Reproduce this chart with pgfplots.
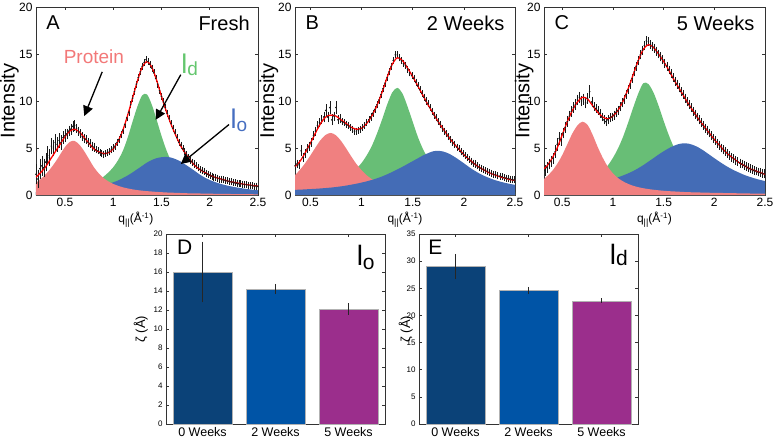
\documentclass[border=0pt]{standalone}
\usepackage{pgfplots}
\pgfplotsset{compat=1.18}
\usepackage{pgfplotstable}
\usepackage{fontspec}
\setmainfont{Liberation Sans}
\usetikzlibrary{arrows.meta}
\definecolor{pro}{RGB}{240,128,128}
\definecolor{ldg}{RGB}{104,190,118}
\definecolor{lob}{RGB}{68,108,182}
\definecolor{protxt}{RGB}{242,120,120}
\definecolor{ldtxt}{RGB}{100,198,110}
\definecolor{lotxt}{RGB}{70,110,192}
\definecolor{cz}{RGB}{11,66,120}
\definecolor{ct}{RGB}{0,84,166}
\definecolor{cf}{RGB}{155,46,140}

\pgfplotstableread{
x fit pro ld lo
0.20 1.9 1.30 0.30 0.30
0.25 2.4 1.70 0.35 0.32
0.30 3.0 2.20 0.40 0.35
0.35 3.8 2.80 0.45 0.38
0.40 4.6 3.50 0.50 0.42
0.45 5.4 4.30 0.55 0.45
0.50 6.2 5.10 0.62 0.50
0.55 6.8 5.65 0.70 0.55
0.60 7.0 5.75 0.78 0.60
0.65 6.7 5.35 0.88 0.66
0.70 6.1 4.65 1.00 0.72
0.75 5.5 3.80 1.15 0.80
0.80 4.9 2.95 1.35 0.88
0.85 4.6 2.30 1.60 0.97
0.90 4.4 1.80 1.95 1.08
0.95 4.5 1.45 2.40 1.20
1.00 4.9 1.18 2.95 1.35
1.05 5.7 0.98 3.70 1.55
1.10 6.9 0.82 4.70 1.80
1.15 8.5 0.70 6.10 2.08
1.20 10.3 0.60 7.80 2.40
1.25 12.1 0.52 9.40 2.75
1.30 13.6 0.46 10.60 3.10
1.35 14.2 0.41 10.70 3.45
1.40 13.6 0.37 9.60 3.72
1.45 12.2 0.33 8.00 3.92
1.50 10.5 0.30 6.30 4.02
1.55 8.9 0.27 4.80 4.05
1.60 7.5 0.25 3.60 3.98
1.65 6.3 0.23 2.60 3.80
1.70 5.2 0.21 1.80 3.55
1.75 4.4 0.19 1.40 3.22
1.80 3.7 0.18 1.10 2.88
1.85 3.1 0.17 0.90 2.52
1.90 2.7 0.16 0.75 2.15
1.95 2.4 0.15 0.65 1.85
2.00 2.1 0.14 0.55 1.60
2.05 1.9 0.13 0.48 1.40
2.10 1.75 0.12 0.43 1.22
2.15 1.6 0.115 0.39 1.08
2.20 1.45 0.11 0.35 0.96
2.25 1.35 0.10 0.32 0.86
2.30 1.25 0.095 0.30 0.77
2.35 1.15 0.09 0.28 0.69
2.40 1.08 0.085 0.26 0.62
2.45 1.0 0.08 0.24 0.56
2.50 0.95 0.075 0.22 0.50
}\curveA

\pgfplotstableread{
x fit pro ld lo
0.35 3.0 2.10 0.55 0.55
0.40 3.6 2.70 0.60 0.57
0.45 4.5 3.40 0.67 0.60
0.50 5.5 4.20 0.74 0.63
0.55 6.6 5.05 0.82 0.66
0.60 7.6 5.85 0.92 0.70
0.65 8.3 6.40 1.05 0.74
0.70 8.5 6.60 1.20 0.79
0.75 8.4 6.35 1.40 0.85
0.80 8.0 5.75 1.65 0.92
0.85 7.6 4.95 1.95 1.00
0.90 7.2 4.10 2.30 1.10
0.95 7.0 3.30 2.80 1.20
1.00 7.1 2.65 3.40 1.32
1.05 7.6 2.10 4.20 1.45
1.10 8.4 1.70 5.20 1.60
1.15 9.5 1.40 6.50 1.77
1.20 10.9 1.17 8.00 1.97
1.25 12.5 0.99 9.60 2.20
1.30 13.9 0.85 10.90 2.45
1.35 14.6 0.74 11.40 2.72
1.40 14.3 0.65 10.80 3.00
1.45 13.5 0.58 9.40 3.30
1.50 12.6 0.52 7.80 3.60
1.55 11.6 0.47 6.20 3.90
1.60 10.6 0.43 4.90 4.20
1.65 9.6 0.39 3.90 4.45
1.70 8.7 0.36 3.10 4.65
1.75 7.8 0.33 2.50 4.70
1.80 7.0 0.31 2.05 4.62
1.85 6.2 0.29 1.70 4.42
1.90 5.5 0.27 1.42 4.12
1.95 4.9 0.25 1.20 3.76
2.00 4.3 0.24 1.03 3.38
2.05 3.8 0.22 0.90 2.98
2.10 3.35 0.21 0.79 2.62
2.15 2.95 0.20 0.70 2.30
2.20 2.65 0.19 0.62 2.03
2.25 2.35 0.18 0.56 1.80
2.30 2.15 0.17 0.50 1.60
2.35 1.95 0.16 0.46 1.44
2.40 1.8 0.15 0.42 1.30
2.45 1.65 0.145 0.38 1.18
2.50 1.55 0.14 0.35 1.08
}\curveB

\pgfplotstableread{
x fit pro ld lo
0.32 2.8 1.70 0.60 0.70
0.35 3.1 2.00 0.63 0.72
0.40 3.9 2.55 0.70 0.75
0.45 5.0 3.30 0.78 0.78
0.50 6.4 4.25 0.87 0.82
0.55 7.8 5.40 0.97 0.86
0.60 9.0 6.55 1.08 0.90
0.65 9.9 7.40 1.22 0.95
0.70 10.4 7.80 1.38 1.00
0.75 10.2 7.45 1.57 1.07
0.80 9.5 6.40 1.80 1.15
0.85 8.8 5.10 2.10 1.25
0.90 8.3 3.95 2.55 1.37
0.95 8.1 3.00 3.15 1.52
1.00 8.4 2.30 3.95 1.70
1.05 9.0 1.80 4.95 1.88
1.10 10.0 1.45 6.20 2.08
1.15 11.3 1.18 7.70 2.30
1.20 12.8 0.98 9.30 2.55
1.25 14.3 0.83 10.80 2.85
1.30 15.5 0.72 11.90 3.18
1.35 16.0 0.63 11.80 3.55
1.40 15.7 0.56 10.90 3.92
1.45 15.0 0.50 9.50 4.30
1.50 14.2 0.45 7.90 4.65
1.55 13.3 0.41 6.40 4.97
1.60 12.3 0.38 5.10 5.23
1.65 11.4 0.35 4.10 5.42
1.70 10.5 0.32 3.30 5.50
1.75 9.6 0.30 2.70 5.45
1.80 8.8 0.28 2.20 5.28
1.85 8.0 0.27 1.82 5.02
1.90 7.3 0.25 1.52 4.68
1.95 6.6 0.24 1.28 4.30
2.00 5.9 0.23 1.10 3.92
2.05 5.3 0.22 0.95 3.55
2.10 4.7 0.21 0.83 3.20
2.15 4.2 0.20 0.73 2.88
2.20 3.8 0.19 0.65 2.60
2.25 3.4 0.18 0.58 2.35
2.30 3.1 0.17 0.52 2.12
2.35 2.8 0.16 0.47 1.93
2.40 2.6 0.15 0.43 1.76
2.45 2.4 0.145 0.39 1.61
2.50 2.2 0.14 0.36 1.48
}\curveC

\pgfplotstableread{
x y e
0.20 2.2 1.0
0.22 1.7 0.9
0.24 2.8 1.0
0.26 3.1 1.0
0.28 2.9 0.9
0.30 3.5 0.9
0.32 4.2 0.9
0.34 4.0 0.8
0.36 5.2 0.8
0.38 5.0 0.8
0.40 5.6 0.8
0.42 5.4 0.7
0.44 5.8 0.7
0.46 5.6 0.7
0.48 6.1 0.6
0.50 6.3 0.6
0.52 6.5 0.5
0.54 6.8 0.5
0.56 7.0 0.5
0.58 7.3 0.5
0.60 7.4 0.5
0.62 7.1 0.4
0.64 6.8 0.4
0.66 6.5 0.4
0.68 6.2 0.4
0.70 6.0 0.4
0.72 5.9 0.4
0.74 5.6 0.4
0.76 5.5 0.4
0.78 5.2 0.4
0.80 5.1 0.4
0.82 4.8 0.3
0.84 4.7 0.3
0.86 4.5 0.3
0.88 4.4 0.3
0.90 4.3 0.3
0.92 4.4 0.3
0.94 4.5 0.3
0.96 4.6 0.3
0.98 4.8 0.3
1.00 5.0 0.3
1.02 5.2 0.3
1.04 5.6 0.3
1.06 5.9 0.3
1.08 6.4 0.3
1.10 6.9 0.3
1.12 7.5 0.3
1.14 8.2 0.3
1.16 8.8 0.3
1.18 9.6 0.3
1.20 10.3 0.3
1.22 11.0 0.3
1.24 11.8 0.3
1.26 12.5 0.3
1.28 13.1 0.3
1.30 13.7 0.3
1.32 14.1 0.3
1.34 14.4 0.3
1.36 14.2 0.3
1.38 13.9 0.3
1.40 13.5 0.3
1.42 13.0 0.3
1.44 12.4 0.3
1.46 11.8 0.3
1.48 11.1 0.3
1.50 10.5 0.3
1.52 9.9 0.3
1.54 9.3 0.3
1.56 8.7 0.3
1.58 8.1 0.3
1.60 7.6 0.3
1.62 7.1 0.3
1.64 6.6 0.3
1.66 6.1 0.3
1.68 5.6 0.3
1.70 5.3 0.3
1.72 4.9 0.3
1.74 4.6 0.3
1.76 4.3 0.3
1.78 4.0 0.3
1.80 3.7 0.3
1.82 3.5 0.3
1.84 3.3 0.3
1.86 3.1 0.3
1.88 2.9 0.3
1.90 2.7 0.3
1.92 2.6 0.3
1.94 2.5 0.3
1.96 2.3 0.3
1.98 2.2 0.3
2.00 2.1 0.3
2.02 2.0 0.3
2.04 1.9 0.3
2.06 1.9 0.3
2.08 1.8 0.3
2.10 1.7 0.3
2.12 1.7 0.3
2.14 1.6 0.3
2.16 1.55 0.3
2.18 1.5 0.3
2.20 1.45 0.3
2.22 1.4 0.3
2.24 1.35 0.3
2.26 1.3 0.3
2.28 1.25 0.3
2.30 1.2 0.3
2.32 1.2 0.3
2.34 1.15 0.3
2.36 1.1 0.3
2.38 1.1 0.3
2.40 1.05 0.3
2.42 1.0 0.3
2.44 1.0 0.3
2.46 0.95 0.3
2.48 0.95 0.3
2.50 0.9 0.3
}\dataA

\pgfplotstableread{
x y e
0.35 3.1 0.4
0.37 3.3 0.4
0.39 3.2 0.4
0.41 4.7 0.5
0.43 4.0 0.4
0.45 4.4 0.4
0.47 4.9 0.4
0.49 5.2 0.4
0.51 5.6 0.4
0.53 6.3 0.4
0.55 6.8 0.4
0.57 7.4 0.4
0.59 7.7 0.4
0.61 8.0 0.4
0.63 8.3 0.5
0.65 9.0 0.6
0.67 8.3 0.5
0.69 9.3 0.6
0.71 8.0 0.5
0.73 8.4 0.4
0.75 9.3 0.6
0.77 8.0 0.4
0.79 8.1 0.4
0.81 7.8 0.3
0.83 7.7 0.3
0.85 7.5 0.3
0.87 7.4 0.3
0.89 7.2 0.3
0.91 7.0 0.3
0.93 6.8 0.3
0.95 6.8 0.3
0.97 6.9 0.3
0.99 7.0 0.3
1.01 7.2 0.3
1.03 7.4 0.3
1.05 7.7 0.3
1.07 8.0 0.3
1.09 8.3 0.3
1.11 8.7 0.3
1.13 9.1 0.3
1.15 9.6 0.3
1.17 10.1 0.3
1.19 10.7 0.3
1.21 11.3 0.3
1.23 11.9 0.3
1.25 12.5 0.3
1.27 13.1 0.3
1.29 13.7 0.3
1.31 14.3 0.3
1.33 14.9 0.3
1.35 14.9 0.3
1.37 14.6 0.3
1.39 14.3 0.3
1.41 14.0 0.3
1.43 13.8 0.3
1.45 13.4 0.3
1.47 13.0 0.3
1.49 12.7 0.3
1.51 12.4 0.3
1.53 12.0 0.3
1.55 11.6 0.3
1.57 11.2 0.3
1.59 10.8 0.3
1.61 10.4 0.3
1.63 10.0 0.3
1.65 9.7 0.3
1.67 9.3 0.3
1.69 8.9 0.3
1.71 8.5 0.3
1.73 8.2 0.3
1.75 7.8 0.3
1.77 7.5 0.3
1.79 7.1 0.3
1.81 6.8 0.3
1.83 6.5 0.3
1.85 6.2 0.3
1.87 5.9 0.3
1.89 5.6 0.3
1.91 5.4 0.3
1.93 5.1 0.3
1.95 4.9 0.3
1.97 4.6 0.3
1.99 4.4 0.3
2.01 4.2 0.3
2.03 4.0 0.3
2.05 3.8 0.3
2.07 3.6 0.3
2.09 3.4 0.3
2.11 3.3 0.3
2.13 3.1 0.3
2.15 2.95 0.3
2.17 2.85 0.3
2.19 2.7 0.3
2.21 2.6 0.3
2.23 2.5 0.3
2.25 2.4 0.3
2.27 2.3 0.3
2.29 2.2 0.3
2.31 2.15 0.3
2.33 2.05 0.3
2.35 2.0 0.3
2.37 1.95 0.3
2.39 1.85 0.3
2.41 1.8 0.3
2.43 1.75 0.3
2.45 1.7 0.3
2.47 1.65 0.3
2.49 1.6 0.3
}\dataB

\pgfplotstableread{
x y e
0.33 2.6 0.5
0.35 2.9 0.5
0.37 3.3 0.5
0.39 3.6 0.5
0.41 3.9 0.5
0.43 4.6 0.6
0.45 5.4 0.6
0.47 6.0 0.6
0.49 5.9 0.6
0.51 6.6 0.5
0.53 7.2 0.5
0.55 7.8 0.5
0.57 8.4 0.5
0.59 8.9 0.5
0.61 9.3 0.5
0.63 9.6 0.5
0.65 10.1 0.5
0.67 10.4 0.5
0.69 10.0 0.5
0.71 10.2 0.5
0.73 9.8 0.5
0.75 10.3 0.5
0.77 11.0 0.6
0.79 9.9 0.5
0.81 9.4 0.4
0.83 9.2 0.4
0.85 9.0 0.4
0.87 8.7 0.4
0.89 8.3 0.4
0.91 8.0 0.4
0.93 7.8 0.4
0.95 8.0 0.4
0.97 8.2 0.4
0.99 8.3 0.4
1.01 8.5 0.4
1.03 8.8 0.4
1.05 9.0 0.4
1.07 9.4 0.4
1.09 9.8 0.4
1.11 10.2 0.4
1.13 10.7 0.4
1.15 11.2 0.4
1.17 11.8 0.4
1.19 12.4 0.4
1.21 13.1 0.4
1.23 13.7 0.4
1.25 14.3 0.4
1.27 14.9 0.4
1.29 15.4 0.4
1.31 15.9 0.4
1.33 16.4 0.4
1.35 16.3 0.4
1.37 16.0 0.4
1.39 15.8 0.4
1.41 15.6 0.4
1.43 15.3 0.4
1.45 15.0 0.4
1.47 14.7 0.4
1.49 14.4 0.4
1.51 14.0 0.4
1.53 13.7 0.4
1.55 13.3 0.4
1.57 12.9 0.4
1.59 12.5 0.4
1.61 12.1 0.4
1.63 11.8 0.4
1.65 11.4 0.4
1.67 11.0 0.4
1.69 10.7 0.4
1.71 10.3 0.4
1.73 9.9 0.4
1.75 9.6 0.4
1.77 9.3 0.4
1.79 8.9 0.4
1.81 8.6 0.4
1.83 8.3 0.4
1.85 8.0 0.4
1.87 7.7 0.4
1.89 7.4 0.4
1.91 7.1 0.4
1.93 6.9 0.4
1.95 6.6 0.4
1.97 6.3 0.4
1.99 6.0 0.4
2.01 5.8 0.4
2.03 5.5 0.4
2.05 5.3 0.4
2.07 5.0 0.4
2.09 4.8 0.4
2.11 4.6 0.4
2.13 4.4 0.4
2.15 4.2 0.4
2.17 4.0 0.4
2.19 3.85 0.4
2.21 3.7 0.4
2.23 3.55 0.4
2.25 3.4 0.4
2.27 3.3 0.4
2.29 3.15 0.4
2.31 3.05 0.4
2.33 2.9 0.4
2.35 2.8 0.4
2.37 2.7 0.4
2.39 2.6 0.4
2.41 2.55 0.4
2.43 2.45 0.4
2.45 2.4 0.4
2.47 2.3 0.4
2.49 2.25 0.4
}\dataC

\pgfplotsset{
  base/.style={
    scale only axis, anchor=south west,
    tick align=inside, major tick length=3pt,
    axis line style={black!80, line width=0.5pt},
    every tick/.style={black!80, line width=0.5pt},
    /pgf/number format/assume math mode=true,
  },
  top/.style={
    base, height=188pt, ymin=0, ymax=20, xmax=2.5,
    ytick={0,5,10,15,20},
    xtick={0.5,1,1.5,2,2.5}, xticklabels={0.5,1,1.5,2,2.5},
    ticklabel style={font=\fontsize{12}{12}\selectfont},
    ylabel={Intensity},
    ylabel style={font=\fontsize{20}{20}\selectfont, anchor=center},
    xlabel={q\raisebox{-0.45ex}{\fontsize{9}{9}\selectfont ||}(Å\textsuperscript{-1})},
    xlabel style={font=\fontsize{12}{12}\selectfont, anchor=center},
  },
  dat/.style={only marks, mark=*, mark size=0.55pt, black!90,
    error bars/.cd, y dir=both, y explicit,
    error bar style={line width=0.3pt, black!90},
    error mark options={mark size=0.7pt, line width=0.3pt, black!90}},
  fitline/.style={red, line width=1.25pt, smooth},
  bot/.style={
    base, width=219pt, height=190pt, xmin=0.5, xmax=3.5,
    xtick={1,2,3}, xticklabels={0 Weeks,2 Weeks,5 Weeks},
    xticklabel style={font=\fontsize{12.5}{12.5}\selectfont},
    yticklabel style={font=\fontsize{8}{8}\selectfont},
    ylabel={ζ (Å)},
    ylabel style={font=\fontsize{13}{13}\selectfont, anchor=center},
  },
  barerr/.style={ybar, bar width=0.8, bar shift=0pt, draw=black!30, line width=0.4pt,
    error bars/.cd, y dir=both, y explicit,
    error bar style={line width=0.5pt, black!85},
    error mark options={mark size=1.8pt, line width=0.5pt, black!85}},
}

\begin{document}
\begin{tikzpicture}
\path[use as bounding box] (0,0) rectangle (777pt,440pt);

% ---------- A ----------
\begin{axis}[top, at={(36pt,245pt)}, width=222pt, xmin=0.2,
  ylabel style={at={(axis description cs:-0.12,0.5)}},
  xlabel style={at={(axis description cs:0.45,-0.133)}}]
\addplot[fill=ldg, draw=none, smooth] table[x=x,y=ld]{\curveA} \closedcycle;
\addplot[fill=lob, draw=none, smooth] table[x=x,y=lo]{\curveA} \closedcycle;
\addplot[fill=pro, draw=none, smooth] table[x=x,y=pro]{\curveA} \closedcycle;
\addplot[dat] table[x=x,y=y,y error=e]{\dataA};
\addplot[fitline] table[x=x,y=fit]{\curveA};
\node[font=\fontsize{20}{20}\selectfont, anchor=west] at (axis cs:0.27,18.3) {A};
\node[font=\fontsize{20}{20}\selectfont, anchor=east] at (axis cs:2.45,18.3) {Fresh};
\node[font=\fontsize{19}{19}\selectfont, text=protxt] at (axis cs:0.8,14.7) {Protein};
\node[text=ldtxt, anchor=base west] at (axis cs:1.67,12.9) {\fontsize{27}{27}\selectfont l\raisebox{-0.15ex}{\fontsize{19}{19}\selectfont d}};
\node[text=lotxt, anchor=base west] at (axis cs:2.18,7.1) {\fontsize{27}{27}\selectfont l\raisebox{-0.25ex}{\fontsize{19}{19}\selectfont o}};
\draw[black, line width=1.3pt, -{Triangle[length=10pt,width=10pt]}] (axis cs:0.886,13.1) -- (axis cs:0.70,8.4);
\draw[black, line width=1.3pt, -{Triangle[length=10pt,width=10pt]}] (axis cs:1.70,12.8) -- (axis cs:1.44,8.0);
\draw[black, line width=1.3pt, -{Triangle[length=10pt,width=10pt]}] (axis cs:2.20,7.5) -- (axis cs:1.70,3.3);
\end{axis}

% ---------- B ----------
\begin{axis}[top, at={(295pt,245pt)}, width=220pt, xmin=0.35,
  ylabel style={at={(axis description cs:-0.118,0.5)}},
  xlabel style={at={(axis description cs:0.5,-0.133)}}]
\addplot[fill=ldg, draw=none, smooth] table[x=x,y=ld]{\curveB} \closedcycle;
\addplot[fill=pro, draw=none, smooth] table[x=x,y=pro]{\curveB} \closedcycle;
\addplot[fill=lob, draw=none, smooth] table[x=x,y=lo]{\curveB} \closedcycle;
\addplot[dat] table[x=x,y=y,y error=e]{\dataB};
\addplot[fitline] table[x=x,y=fit]{\curveB};
\node[font=\fontsize{20}{20}\selectfont, anchor=west] at (axis cs:0.42,18.3) {B};
\node[font=\fontsize{20}{20}\selectfont, anchor=east] at (axis cs:2.43,18.3) {2 Weeks};
\end{axis}

% ---------- C ----------
\begin{axis}[top, at={(544pt,245pt)}, width=221pt, xmin=0.32,
  ylabel style={at={(axis description cs:-0.09,0.5)}},
  xlabel style={at={(axis description cs:0.5,-0.133)}}]
\addplot[fill=ldg, draw=none, smooth] table[x=x,y=ld]{\curveC} \closedcycle;
\addplot[fill=lob, draw=none, smooth] table[x=x,y=lo]{\curveC} \closedcycle;
\addplot[fill=pro, draw=none, smooth] table[x=x,y=pro]{\curveC} \closedcycle;
\addplot[dat] table[x=x,y=y,y error=e]{\dataC};
\addplot[fitline] table[x=x,y=fit]{\curveC};
\node[font=\fontsize{20}{20}\selectfont, anchor=west] at (axis cs:0.39,18.3) {C};
\node[font=\fontsize{20}{20}\selectfont, anchor=east] at (axis cs:2.43,18.3) {5 Weeks};
\end{axis}

% ---------- D ----------
\begin{axis}[bot, at={(166pt,16pt)}, ymin=0, ymax=20, ytick={0,2,...,20},
  ylabel style={at={(axis description cs:-0.115,0.5)}}]
\addplot[fill=cz, barerr] coordinates {(1,16) +- (0,3)};
\addplot[fill=ct, barerr] coordinates {(2,14.2) +- (0,0.35)};
\addplot[fill=cf, barerr] coordinates {(3,12.1) +- (0,0.4)};
\node[font=\fontsize{21}{21}\selectfont] at (axis description cs:0.085,0.93) {D};
\node[anchor=base west] at (axis description cs:0.855,0.835) {\fontsize{28}{28}\selectfont l\raisebox{-0.3ex}{\fontsize{21}{21}\selectfont o}};
\end{axis}

% ---------- E ----------
\begin{axis}[bot, at={(419pt,16pt)}, ymin=0, ymax=35, ytick={0,5,...,35},
  ylabel style={at={(axis description cs:-0.06,0.5)}}]
\addplot[fill=cz, barerr] coordinates {(1,29) +- (0,2)};
\addplot[fill=ct, barerr] coordinates {(2,24.6) +- (0,0.35)};
\addplot[fill=cf, barerr] coordinates {(3,22.7) +- (0,0.1)};
\node[font=\fontsize{21}{21}\selectfont] at (axis description cs:0.075,0.93) {E};
\node[anchor=base west] at (axis description cs:0.855,0.84) {\fontsize{28}{28}\selectfont l\raisebox{-0.1ex}{\fontsize{21}{21}\selectfont d}};
\end{axis}
\end{tikzpicture}
\end{document}
